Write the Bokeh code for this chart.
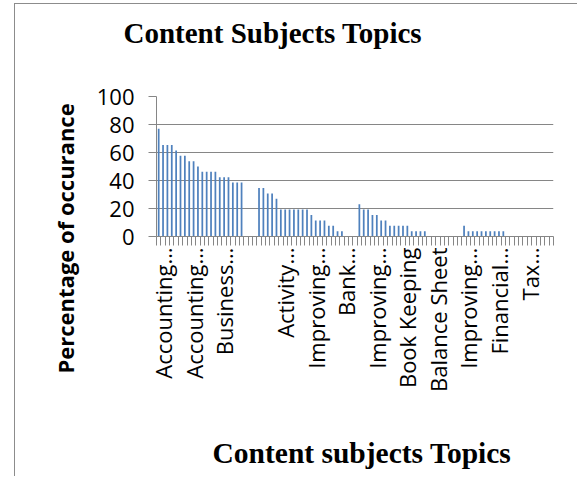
from bokeh.plotting import figure
from bokeh.models import Range1d, FixedTicker, Title
from bokeh.embed import file_html
from bokeh.resources import INLINE
import math

# ---- data (percent of occurrence per content subject topic) ----
values = [
    76.9, 65.4, 65.4, 65.4, 61.5, 57.7, 57.7, 53.8, 53.8, 50.0,
    46.2, 46.2, 46.2, 46.2, 42.3, 42.3, 42.3, 38.5, 38.5, 38.5,
    0, 0, 0, 34.6, 34.6, 30.8, 30.8, 26.9, 19.2, 19.2,
    19.2, 19.2, 19.2, 19.2, 19.2, 15.4, 11.5, 11.5, 11.5, 7.7,
    7.7, 3.8, 3.8, 0, 0, 0, 23.1, 19.2, 19.2, 15.4,
    15.4, 11.5, 11.5, 7.7, 7.7, 7.7, 7.7, 7.7, 3.8, 3.8,
    3.8, 3.8, 0, 0, 0, 0, 0, 0, 0, 0,
    7.7, 3.8, 3.8, 3.8, 3.8, 3.8, 3.8, 3.8, 3.8, 3.8,
    0, 0, 0, 0, 0, 0, 0, 0, 0, 0,
    0,
]
categories = list(range(len(values)))
label_positions = [1, 8, 15, 22, 29, 36, 43, 50, 57, 64, 71, 78, 85]
tick_labels = ["Accounting\u2026", "Accounting\u2026", "Business\u2026", "",
               "Activity\u2026", "Improving\u2026", "Bank\u2026", "Improving\u2026",
               "Book Keeping", "Balance Sheet", "Improving\u2026", "Financial\u2026",
               "Tax\u2026"]
y_ticks = [0, 20, 40, 60, 80, 100]

title_text = "Content Subjects Topics"
x_title = "Content subjects Topics"
y_title = "Percentage of occurance"

GRAY = "#868686"
BAR = "#4F81BD"

p = figure(width=563, height=473,
           min_border_left=141, min_border_right=25, min_border_top=92,
           min_border_bottom=241,
           x_range=Range1d(-0.5, len(values) - 0.5), y_range=Range1d(0, 100),
           output_backend="svg", toolbar_location=None)
p.title = None
p.margin = (3, 0, 0, 14)
p.styles = {"border-left": "1px solid #8c8c8c", "border-top": "1px solid #8c8c8c"}
p.outline_line_color = None
p.background_fill_color = "white"
p.border_fill_color = "white"

p.vbar(x=categories, top=values, width=0.4, fill_color=BAR, line_color=None)

# y axis
p.yaxis.ticker = FixedTicker(ticks=y_ticks)
p.yaxis.axis_line_color = GRAY
p.yaxis.major_tick_line_color = GRAY
p.yaxis.major_tick_out = 8
p.yaxis.major_tick_in = 0
p.yaxis.minor_tick_line_color = None
p.yaxis.major_label_text_font = "Open Sans"
p.yaxis.major_label_text_font_size = "22px"
p.yaxis.major_label_text_color = "black"
p.yaxis.major_label_standoff = 14

# x axis
p.xaxis.ticker = FixedTicker(ticks=label_positions,
                             minor_ticks=[i - 0.5 for i in range(len(values) + 1)])
p.xaxis.major_label_overrides = {pos: lab for pos, lab in zip(label_positions, tick_labels)}
p.xaxis.major_label_orientation = math.pi / 2
p.xaxis.axis_line_color = GRAY
p.xaxis.major_tick_line_color = None
p.xaxis.major_tick_out = 0
p.xaxis.major_tick_in = 0
p.xaxis.minor_tick_line_color = GRAY
p.xaxis.minor_tick_out = 9
p.xaxis.minor_tick_in = 0
p.xaxis.major_label_text_font = "Open Sans"
p.xaxis.major_label_text_font_size = "22px"
p.xaxis.major_label_text_color = "black"
p.xaxis.major_label_standoff = 2

p.xgrid.grid_line_color = None
p.ygrid.grid_line_color = GRAY
p.ygrid.grid_line_width = 1

# main title (a blank spacer sits between it and the plot frame)
p.add_layout(Title(text=" ", text_font_size="1px", standoff=45), "above")
p.add_layout(Title(text=title_text, align="left", offset=-33, standoff=0,
                   text_font="Liberation Serif", text_font_style="bold",
                   text_font_size="29px", text_color="black"), "above")

# x axis title (spacer between tick labels and title)
p.add_layout(Title(text=" ", text_font_size="1px", standoff=37), "below")
p.add_layout(Title(text=x_title, align="left", offset=56, standoff=0,
                   text_font="Liberation Serif", text_font_style="bold",
                   text_font_size="29.5px", text_color="black"), "below")

# y axis title
p.add_layout(Title(text=y_title, align="left", offset=-137, standoff=27,
                   text_font="Open Sans", text_font_style="bold",
                   text_font_size="22px", text_color="black"), "left")

open("out.html", "w").write(file_html(p, INLINE))
